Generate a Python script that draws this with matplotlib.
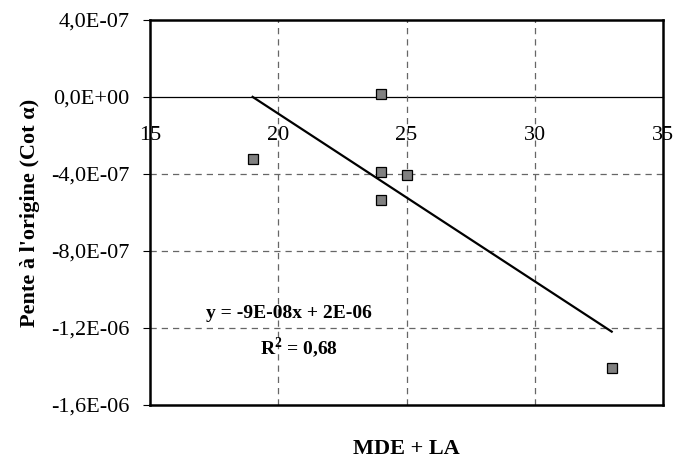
import numpy as np
import matplotlib.pyplot as plt
from matplotlib.ticker import FuncFormatter

# MDE + LA vs pente a l'origine
mde_la = [19, 24, 24, 25, 24, 33]
pente = [-3.2e-7, 1.5e-8, -3.9e-7, -4.05e-7, -5.35e-7, -1.41e-6]

x_ticks = [15, 20, 25, 30, 35]
y_ticks = [-1.6e-6, -1.2e-6, -8e-7, -4e-7, 0, 4e-7]

plt.rcParams['font.family'] = ['Liberation Serif', 'DejaVu Serif']
plt.rcParams['mathtext.fontset'] = 'custom'
plt.rcParams['mathtext.bf'] = 'Liberation Serif:bold'

fig = plt.figure(figsize=(6.74, 4.59), dpi=100)
ax = fig.add_axes([150 / 674, 1 - 405 / 459, 513 / 674, 385 / 459])

ax.set_xlim(15, 35)
ax.set_ylim(-1.6e-6, 4e-7)

# grid
for gx in [20, 25, 30]:
    ax.axvline(gx, color='#666666', lw=0.9, dashes=(5, 4), zorder=1)
for gy in [-1.2e-6, -8e-7, -4e-7]:
    ax.axhline(gy, color='#666666', lw=0.9, dashes=(5, 4), zorder=1)

# trend line
a, b = np.polyfit(mde_la, pente, 1)
xs = np.array([min(mde_la), max(mde_la)])
ax.plot(xs, a * xs + b, color='black', lw=1.6, zorder=3)

ax.plot(mde_la, pente, 's', color='#808080', markeredgecolor='black',
        markeredgewidth=0.9, markersize=7.5, zorder=4)

for s in ax.spines.values():
    s.set_linewidth(1.8)

def sci_fr(v, pos):
    s = '%.1E' % v
    return s.replace('.', ',')

ax.set_yticks(y_ticks)
ax.yaxis.set_major_formatter(FuncFormatter(sci_fr))
ax.tick_params(axis='y', direction='out', length=5, width=0.8, pad=9.5, labelsize=16)
ax.set_xticks(x_ticks)
ax.tick_params(axis='x', bottom=False, labelbottom=False)

# x axis crossing at y=0
sec = ax.secondary_xaxis(0.8)
sec.set_alignment('bottom')
sec.set_xticks(x_ticks)
sec.spines['bottom'].set_linewidth(0.9)
sec.tick_params(axis='x', length=0, pad=21, labelsize=16)

ax.set_ylabel("Pente à l'origine (Cot α)", fontsize=16, fontweight='bold', labelpad=8)
fig.text(406 / 674, 1 - 449 / 459, 'MDE + LA', fontsize=16, fontweight='bold',
         ha='center', va='center')

ax.text(0.27, 0.238, 'y = -9E-08x + 2E-06', transform=ax.transAxes,
        fontsize=14, fontweight='bold', ha='center', va='center')
ax.text(0.29, 0.146, r'R$^{\mathbf{2}}$ = 0,68', transform=ax.transAxes,
        fontsize=14, fontweight='bold', ha='center', va='center')

fig.savefig('out.png', dpi=100)
